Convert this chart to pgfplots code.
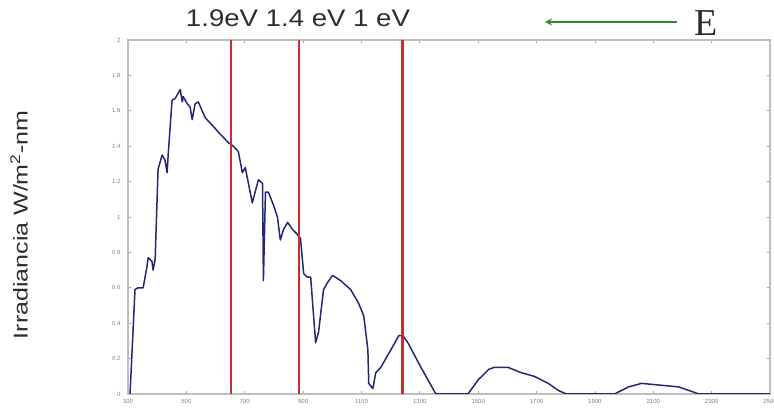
\documentclass[border=0pt]{standalone}
\usepackage{pgfplots}
\pgfplotsset{compat=1.18}
\usetikzlibrary{arrows.meta}
\usepackage{fontspec}
\setmainfont{Liberation Sans}
\newfontfamily\serifE{Liberation Serif}
\definecolor{curve}{RGB}{38,38,118}
\definecolor{redl}{RGB}{200,45,50}
\definecolor{greenA}{RGB}{55,135,55}
\definecolor{axgray}{RGB}{190,190,190}
\definecolor{txt}{RGB}{45,45,45}
\pgfplotstableread{
nm val
307 0
324 0.59
334 0.60
352 0.60
365 0.72
369 0.77
382 0.75
386 0.70
393 0.76
403 1.27
417 1.35
427 1.32
434 1.25
438 1.36
451 1.66
462 1.67
472 1.70
479 1.72
486 1.65
489 1.68
503 1.64
513 1.62
520 1.55
530 1.64
541 1.65
554 1.60
565 1.56
582 1.53
599 1.50
609 1.48
627 1.45
644 1.42
661 1.40
678 1.37
692 1.25
702 1.28
709 1.22
726 1.08
737 1.15
747 1.21
761 1.19
764 0.64
771 1.14
781 1.14
798 1.07
812 1.00
822 0.87
833 0.93
847 0.97
864 0.93
881 0.90
891 0.88
902 0.68
915 0.66
926 0.66
936 0.44
943 0.29
953 0.35
970 0.59
984 0.63
1001 0.67
1029 0.64
1063 0.59
1091 0.51
1108 0.44
1122 0.25
1125 0.06
1139 0.03
1149 0.12
1166 0.15
1201 0.25
1228 0.33
1242 0.33
1259 0.29
1304 0.15
1355 0.0
1465 0.0
1500 0.08
1537 0.14
1555 0.15
1603 0.15
1648 0.12
1692 0.10
1740 0.06
1775 0.02
1802 0
1967 0
2015 0.04
2060 0.06
2187 0.04
2222 0.02
2256 0
2500 0
}\spectrum
\begin{document}
\begin{tikzpicture}[x=1pt,y=1pt]
\path[use as bounding box] (0,0) rectangle (774,414);
\begin{axis}[
  at={(128pt,20pt)}, anchor=south west,
  scale only axis, width=642pt, height=354pt,
  xmin=300, xmax=2500, ymin=0, ymax=2,
  xtick={300,500,...,2500},
  ytick={0,0.2,0.4,0.6,0.8,1,1.2,1.4,1.6,1.8,2},
  yticklabels={0,0.2,0.4,0.6,0.8,1,1.2,1.4,1.6,1.8,2},
  axis line style={draw=axgray, line width=1.3pt},
  tick style={draw=gray!70, line width=0.8pt},
  major tick length=3pt, tick align=inside,
  ticklabel style={font=\fontsize{6}{6}\selectfont, text=gray},
  /pgf/number format/assume math mode=true,
  /pgf/number format/1000 sep={},
  xticklabel style={yshift=-2pt},
  yticklabel style={xshift=-4pt},
]
\addplot[curve, line width=1.5pt, line join=round] table[x=nm, y=val] {\spectrum};
\addplot[redl, line width=2.6pt] coordinates {(653,0) (653,2)};
\addplot[redl, line width=2.6pt] coordinates {(886,0) (886,2)};
\addplot[redl, line width=2.6pt] coordinates {(1240,0) (1240,2)};
\end{axis}
\node[text=txt] at (298,396) {\scalebox{1.15}[1]{\fontsize{24}{24}\selectfont 1.9eV 1.4 eV 1 eV}};
\draw[greenA, line width=2.5pt, -{Stealth[length=7pt,width=7pt]}] (677,392) -- (545,392);
\node[text=txt] at (706,391) {\fontsize{38}{38}\serifE E};
\node[rotate=90, text=txt] at (19,189) {\scalebox{1.25}[1]{\fontsize{20}{20}\selectfont Irradiancia W/m\textsuperscript{2}-nm}};
\end{tikzpicture}
\end{document}
